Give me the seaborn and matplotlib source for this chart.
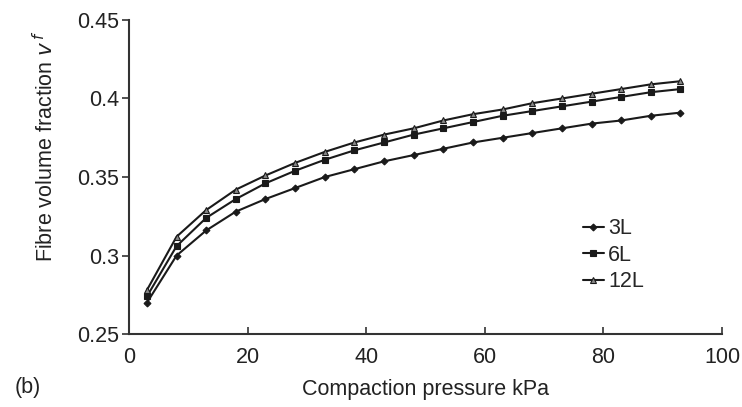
import matplotlib
matplotlib.use("Agg")
import matplotlib.pyplot as plt
from matplotlib.ticker import FuncFormatter
import numpy as np
import pandas as pd
import seaborn as sns

# Compaction pressure (kPa) and fibre volume fraction for each stack
pressure = [3, 8, 13, 18, 23, 28, 33, 38, 43, 48, 53, 58, 63, 68, 73, 78, 83, 88, 93]
vf_3L = [0.270, 0.300, 0.316, 0.328, 0.336, 0.343, 0.350, 0.355, 0.360, 0.364,
         0.368, 0.372, 0.375, 0.378, 0.381, 0.384, 0.386, 0.389, 0.391]
vf_6L = [0.274, 0.306, 0.324, 0.336, 0.346, 0.354, 0.361, 0.367, 0.372, 0.377,
         0.381, 0.385, 0.389, 0.392, 0.395, 0.398, 0.401, 0.404, 0.406]
vf_12L = [0.278, 0.312, 0.329, 0.342, 0.351, 0.359, 0.366, 0.372, 0.377, 0.381,
          0.386, 0.390, 0.393, 0.397, 0.400, 0.403, 0.406, 0.409, 0.411]
series_names = ["3L", "6L", "12L"]
x_ticks = [0, 20, 40, 60, 80, 100]
y_ticks = [0.25, 0.30, 0.35, 0.40, 0.45]

df = pd.concat([
    pd.DataFrame({"pressure": pressure, "vf": v, "stack": name})
    for name, v in zip(series_names, [vf_3L, vf_6L, vf_12L])
])

sns.set_theme(style="ticks")
plt.rcParams["font.family"] = ["Liberation Sans", "DejaVu Sans"]

FS = 15.5
text_col = "#222222"

fig = plt.figure(figsize=(7.42, 4.07), dpi=100)
ax = fig.add_axes([0.174, 0.179, 0.799, 0.772])

ink = "#1a1a1a"
markers = {"3L": "D", "6L": "s", "12L": "^"}
sizes = {"3L": 3.5, "6L": 5.0, "12L": 5.0}
for name in series_names:
    sub = df[df["stack"] == name]
    sns.lineplot(data=sub, x="pressure", y="vf", ax=ax, color=ink,
                 marker=markers[name], markersize=sizes[name],
                 markeredgecolor=ink,
                 markerfacecolor=ink if name != "12L" else "#888888",
                 markeredgewidth=0.8, linewidth=1.5, label=name)

ax.set_xlim(0, 100)
ax.set_ylim(0.25, 0.45)
ax.set_xticks(x_ticks)
ax.set_yticks(y_ticks)
ax.yaxis.set_major_formatter(FuncFormatter(lambda v, p: f"{v:g}"))

for side in ("top", "right"):
    ax.spines[side].set_visible(False)
for side in ("left", "bottom"):
    ax.spines[side].set_color("#333333")
    ax.spines[side].set_linewidth(1.5)

ax.tick_params(axis="x", direction="in", length=5, width=1.2, colors="#333333",
               labelsize=FS, labelcolor=text_col, pad=9)
ax.tick_params(axis="y", direction="out", length=5, width=1.2, colors="#333333",
               labelsize=FS, labelcolor=text_col, pad=2)

ax.set_xlabel("Compaction pressure kPa", fontsize=FS, color=text_col, labelpad=8)
ax.set_ylabel(r"Fibre volume fraction $\mathit{v}^{\,f}$", fontsize=FS,
              color=text_col)
ax.yaxis.set_label_coords(-0.120, 0.598)

fig.text(0.020, 0.035, "(b)", fontsize=FS, color=text_col)

leg = ax.legend(loc="upper left", bbox_to_anchor=(0.786, 0.464),
                bbox_transform=fig.transFigure, frameon=False,
                fontsize=FS, handlelength=0.95, handletextpad=0.2,
                labelspacing=0.26, borderaxespad=0, borderpad=0)

fig.savefig("out.png", dpi=100, facecolor="white")
